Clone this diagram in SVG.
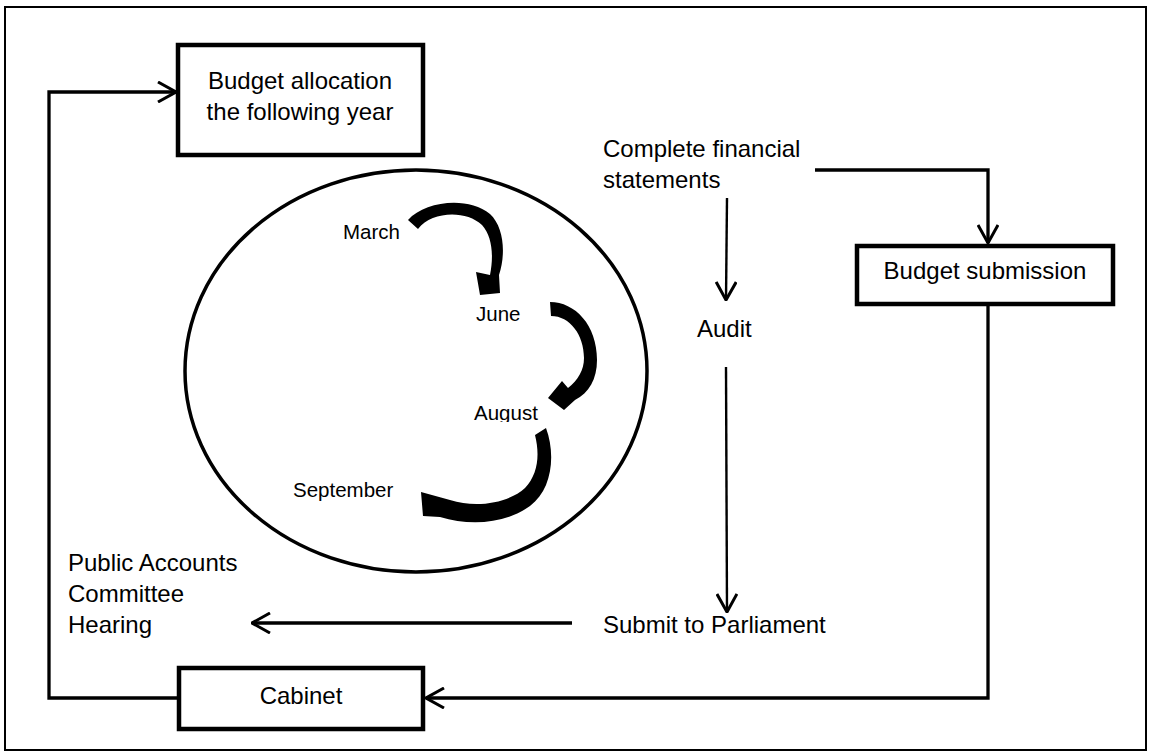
<svg xmlns="http://www.w3.org/2000/svg" width="1150" height="756" viewBox="0 0 1150 756">
<style>
.t{font-family:"Liberation Sans",Arial,sans-serif;font-size:24px;fill:#000}
.s{font-family:"Liberation Sans",Arial,sans-serif;font-size:20.5px;fill:#000}
.box{fill:#fff;stroke:#000;stroke-width:4.5}
.c{fill:none;stroke:#000;stroke-width:3.3}
.c2{fill:none;stroke:#000;stroke-width:2.4}
.curve{fill:#000;stroke:none}
</style>
<defs>
<marker id="ah" viewBox="0 0 20 22" refX="19" refY="11" markerWidth="20" markerHeight="22" orient="auto" markerUnits="userSpaceOnUse">
<path d="M1,1 L19,11 L1,21" fill="none" stroke="#000" stroke-width="3"/>
</marker>
<clipPath id="augclip"><rect x="460" y="395" width="100" height="27"/></clipPath>
</defs>
<rect x="0" y="0" width="1150" height="756" fill="#fff"/>
<rect id="frame" x="5" y="7" width="1141" height="743" fill="none" stroke="#000" stroke-width="2"/>

<g id="connectors">
<path class="c" d="M179,698 L49,698 L49,92 L176,92" marker-end="url(#ah)"/>
<path class="c" d="M815,170 L988,170 L988,243" marker-end="url(#ah)"/>
<path class="c2" d="M727,198 L726,300" marker-end="url(#ah)"/>
<path class="c2" d="M726,367 L727,612" marker-end="url(#ah)"/>
<path class="c" d="M572,623 L252,623" marker-end="url(#ah)"/>
<path class="c" d="M988,304 L988,698 L426,698" marker-end="url(#ah)"/>
</g>

<g id="cycle">
<ellipse cx="416" cy="371" rx="231" ry="201" fill="none" stroke="#000" stroke-width="3.5"/>
<path class="curve" d="M408,220 C425,201 468,196 490,214 C504,227 506,254 499,275 L500,293 L480,295 L476,272 L490,275 C494,255 492,236 482,225 C466,210 432,211 418,229 Z"/>
<path class="curve" d="M550,302 C575,302 597,325 597,360 C597,379 589,393 575,400 L564,410 L548,398 L562,381 L568,388 C578,380 584,370 584,358 C584,335 570,316 551,316 Z"/>
<path class="curve" d="M535,435 L546,428 C556,455 552,490 530,506 C505,524 470,526 440,517 L423,516 L421,492 L450,500 C478,509 510,502 525,488 C538,474 540,455 535,435 Z"/>
<text class="s" x="343" y="239">March</text>
<text class="s" x="476" y="321">June</text>
<text class="s" x="474" y="420" clip-path="url(#augclip)">August</text>
<text class="s" x="293" y="497">September</text>
</g>

<g id="budget-allocation">
<rect class="box" x="178" y="45" width="245" height="110"/>
<text class="t" x="300" y="89" text-anchor="middle">Budget allocation</text>
<text class="t" x="300" y="120" text-anchor="middle">the following year</text>
</g>

<g id="complete-financial-statements">
<text class="t" x="603" y="157">Complete financial</text>
<text class="t" x="603" y="188">statements</text>
</g>

<g id="budget-submission">
<rect class="box" x="857" y="246" width="256" height="58"/>
<text class="t" x="985" y="279" text-anchor="middle">Budget submission</text>
</g>

<g id="audit">
<text class="t" x="697" y="337">Audit</text>
</g>

<g id="submit-to-parliament">
<text class="t" x="603" y="633">Submit to Parliament</text>
</g>

<g id="public-accounts-committee-hearing">
<text class="t" x="68" y="571">Public Accounts</text>
<text class="t" x="68" y="602">Committee</text>
<text class="t" x="68" y="633">Hearing</text>
</g>

<g id="cabinet">
<rect class="box" x="179" y="668" width="244" height="61"/>
<text class="t" x="301" y="704" text-anchor="middle">Cabinet</text>
</g>
</svg>
